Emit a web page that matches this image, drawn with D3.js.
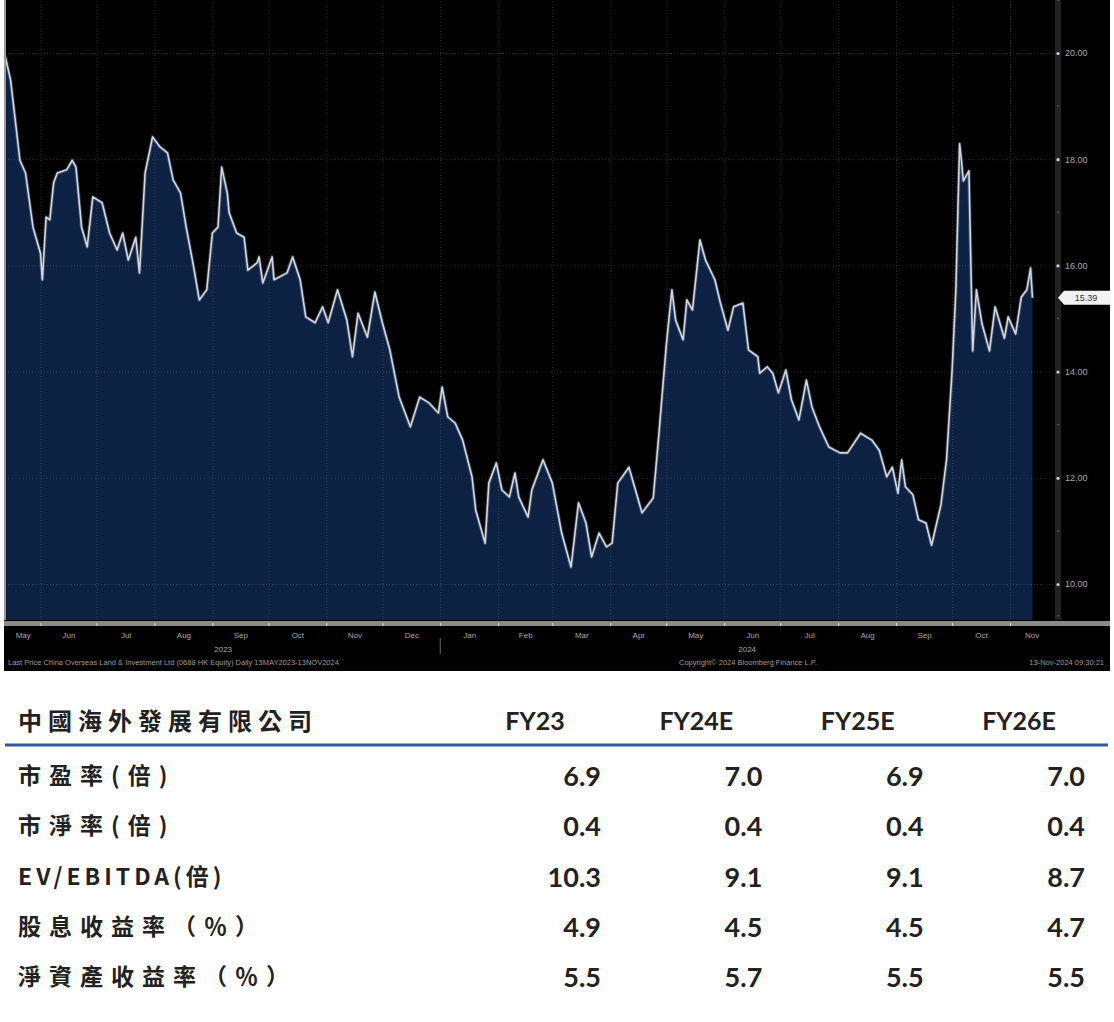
<html>

<head>
    <title>0688 HK</title>
    <script src='https://d3js.org/d3.v7.min.js'></script>
    <style>
        body { margin: 0; background: #fff; }
        .axis text { font-family: 'Liberation Sans', sans-serif; }
    </style>
</head>

<body>
    <svg id="chart"></svg>
    <script>
        // price series
        var dates = ["2023-05-13", "2023-05-16", "2023-05-21", "2023-05-24", "2023-05-28", "2023-06-01", "2023-06-02", "2023-06-04",
            "2023-06-06", "2023-06-08", "2023-06-10", "2023-06-15", "2023-06-18", "2023-06-20", "2023-06-23", "2023-06-26",
            "2023-06-29", "2023-07-04", "2023-07-08", "2023-07-12", "2023-07-15", "2023-07-18", "2023-07-22", "2023-07-24",
            "2023-07-27", "2023-07-31", "2023-08-04", "2023-08-08", "2023-08-11", "2023-08-15", "2023-08-18", "2023-08-22",
            "2023-08-25", "2023-08-29", "2023-09-01", "2023-09-04", "2023-09-06", "2023-09-09", "2023-09-10", "2023-09-14",
            "2023-09-18", "2023-09-20", "2023-09-25", "2023-09-26", "2023-09-28", "2023-10-03", "2023-10-04", "2023-10-11",
            "2023-10-14", "2023-10-18", "2023-10-21", "2023-10-26", "2023-10-30", "2023-11-02", "2023-11-07", "2023-11-12",
            "2023-11-15", "2023-11-18", "2023-11-23", "2023-11-27", "2023-12-01", "2023-12-05", "2023-12-10", "2023-12-16",
            "2023-12-21", "2023-12-26", "2023-12-31", "2024-01-02", "2024-01-05", "2024-01-09", "2024-01-13", "2024-01-18",
            "2024-01-20", "2024-01-25", "2024-01-27", "2024-01-31", "2024-02-03", "2024-02-07", "2024-02-10", "2024-02-12",
            "2024-02-17", "2024-02-19", "2024-02-25", "2024-03-01", "2024-03-06", "2024-03-11", "2024-03-15", "2024-03-19",
            "2024-03-22", "2024-03-26", "2024-03-30", "2024-04-02", "2024-04-05", "2024-04-11", "2024-04-15", "2024-04-18",
            "2024-04-24", "2024-04-27", "2024-05-01", "2024-05-04", "2024-05-06", "2024-05-10", "2024-05-12", "2024-05-15",
            "2024-05-19", "2024-05-22", "2024-05-27", "2024-05-30", "2024-06-03", "2024-06-06", "2024-06-11", "2024-06-14",
            "2024-06-19", "2024-06-20", "2024-06-24", "2024-06-27", "2024-06-30", "2024-07-04", "2024-07-07", "2024-07-11",
            "2024-07-15", "2024-07-18", "2024-07-22", "2024-07-27", "2024-08-02", "2024-08-06", "2024-08-13", "2024-08-19",
            "2024-08-23", "2024-08-27", "2024-08-30", "2024-09-02", "2024-09-04", "2024-09-06", "2024-09-10", "2024-09-13",
            "2024-09-17", "2024-09-20", "2024-09-25", "2024-09-28", "2024-10-01", "2024-10-03", "2024-10-05", "2024-10-06",
            "2024-10-07", "2024-10-10", "2024-10-12", "2024-10-14", "2024-10-17", "2024-10-21", "2024-10-24", "2024-10-29",
            "2024-10-31", "2024-11-04", "2024-11-07", "2024-11-10", "2024-11-12", "2024-11-13"];
        var prices = [19.96, 19.49, 17.98, 17.74, 16.72, 16.23, 15.73, 16.91,
            16.86, 17.55, 17.74, 17.80, 17.98, 17.85, 16.72, 16.35,
            17.29, 17.18, 16.61, 16.29, 16.61, 16.10, 16.53, 15.86,
            17.74, 18.42, 18.23, 18.12, 17.61, 17.36, 16.72, 15.97,
            15.35, 15.54, 16.61, 16.72, 17.85, 17.36, 16.99, 16.61,
            16.53, 15.91, 16.05, 16.16, 15.67, 16.16, 15.73, 15.86,
            16.16, 15.73, 15.03, 14.92, 15.22, 14.92, 15.54, 14.97,
            14.28, 15.10, 14.65, 15.50, 14.92, 14.41, 13.52, 12.96,
            13.52, 13.41, 13.22, 13.71, 13.15, 13.03, 12.71, 12.02,
            11.39, 10.77, 11.90, 12.28, 11.77, 11.64, 12.09, 11.64,
            11.26, 11.77, 12.34, 11.90, 10.96, 10.32, 11.53, 11.15,
            10.51, 10.96, 10.70, 10.77, 11.90, 12.20, 11.71, 11.34,
            11.62, 12.81, 14.50, 15.54, 14.97, 14.60, 15.35, 15.16,
            16.48, 16.10, 15.73, 15.29, 14.78, 15.22, 15.29, 14.41,
            14.28, 13.97, 14.09, 13.97, 13.60, 14.03, 13.47, 13.09,
            13.84, 13.33, 12.96, 12.58, 12.47, 12.47, 12.84, 12.71,
            12.52, 12.02, 12.20, 11.71, 12.34, 11.83, 11.68, 11.21,
            11.15, 10.73, 11.49, 12.34, 14.03, 15.54, 18.29, 17.97,
            17.59, 17.78, 14.39, 15.54, 14.90, 14.39, 15.22, 14.63,
            15.03, 14.71, 15.40, 15.54, 15.95, 15.39];
        var priceTicks = [10, 12, 14, 16, 18, 20];
        var lastPrice = 15.39;
        var footLeft = "Last Price  China Overseas Land & Investment Ltd (0688 HK Equity)  Daily 13MAY2023-13NOV2024";
        var footMid = "Copyright\u00a9 2024 Bloomberg Finance L.P.";
        var footRight = "13-Nov-2024 09:30:21";

        // valuation table
        var company = "中國海外發展有限公司";
        var years = ["FY23", "FY24E", "FY25E", "FY26E"];
        var metrics = ["市盈率(倍)", "市淨率(倍)", "EV/EBITDA(倍)", "股息收益率（％）", "淨資產收益率（％）"];
        var fy23 = [6.9, 0.4, 10.3, 4.9, 5.5];
        var fy24e = [7.0, 0.4, 9.1, 4.5, 5.7];
        var fy25e = [6.9, 0.4, 9.1, 4.5, 5.5];
        var fy26e = [7.0, 0.4, 8.7, 4.7, 5.5];

        var W = 1114, H = 1022;
        var left = 5, right = 1053, bottom = 620;
        var parse = d3.timeParse("%Y-%m-%d");
        var data = dates.map(function (d, i) { return { date: parse(d), price: prices[i] }; });
        var start = parse("2023-05-13"), end = parse("2024-11-24");

        var x = d3.scaleTime().domain([start, end]).range([left, right]);
        var y = d3.scaleLinear().domain([10, 20]).range([584, 53]);

        var svg = d3.select("#chart").attr("width", W).attr("height", H);

        // black panel
        svg.append("rect").attr("x", 4).attr("y", 0).attr("width", 1106).attr("height", 671).attr("fill", "#000");

        // area
        svg.append("path").datum(data)
            .attr("fill", "#0d2142")
            .attr("d", d3.area().x(function (d) { return x(d.date); }).y0(bottom).y1(function (d) { return y(d.price); }));

        // grid
        svg.append("g").attr("transform", "translate(" + right + ",0)")
            .call(d3.axisRight(y).tickValues(priceTicks).tickSize(-(right - left)).tickFormat(""))
            .call(function (g) { g.select(".domain").remove(); })
            .selectAll("line").attr("stroke", "#fff").attr("stroke-dasharray", "1,2").attr("stroke-opacity", 0.16);
        svg.append("g").attr("transform", "translate(0," + bottom + ")")
            .call(d3.axisBottom(x).ticks(d3.timeMonth.every(1)).tickSize(-bottom).tickFormat(""))
            .call(function (g) { g.select(".domain").remove(); })
            .selectAll("line").attr("stroke", "#fff").attr("stroke-dasharray", "1,2").attr("stroke-opacity", 0.16);

        // line with a soft glow
        var line = d3.line().x(function (d) { return x(d.date); }).y(function (d) { return y(d.price); });
        svg.append("path").datum(data)
            .attr("fill", "none").attr("stroke", "#8f9bb0").attr("stroke-opacity", 0.35)
            .attr("stroke-width", 3.5).attr("stroke-linejoin", "round").attr("d", line);
        svg.append("path").datum(data)
            .attr("fill", "none").attr("stroke", "#d2d8e2")
            .attr("stroke-width", 1.6).attr("stroke-linejoin", "round").attr("d", line);

        // left border line
        svg.append("line").attr("x1", 5).attr("x2", 5).attr("y1", 0).attr("y2", bottom).attr("stroke", "#9a9a9a").attr("stroke-width", 2);

        // right axis strip
        svg.append("rect").attr("x", 1055).attr("y", 0).attr("width", 6).attr("height", bottom).attr("fill", "#222");
        var yAxis = svg.append("g").attr("class", "axis").attr("transform", "translate(1058,0)")
            .call(d3.axisRight(y).tickValues(priceTicks).tickSize(0).tickPadding(7).tickFormat(d3.format(".2f")));
        yAxis.select(".domain").remove();
        yAxis.selectAll("text").attr("fill", "#a8a8a8").attr("font-size", 9);
        yAxis.selectAll(".tick").append("circle").attr("r", 1.6).attr("fill", "#cfcfcf");
        svg.append("g").attr("transform", "translate(1058,0)")
            .selectAll("circle").data(priceTicks.slice(0, -1).map(function (v) { return v + 1; }).concat([9.4, 21]))
            .join("circle").attr("cy", function (d) { return y(d); }).attr("r", 1).attr("fill", "#555");

        // last price tag
        var tag = svg.append("g").attr("transform", "translate(1058," + y(lastPrice) + ")");
        tag.append("path").attr("d", "M0,0 L6,-7 H52 V7 H6 Z").attr("fill", "#f2f2f2");
        tag.append("text").attr("x", 28).attr("y", 3.5).attr("text-anchor", "middle")
            .attr("font-family", "Liberation Sans").attr("font-size", 9).attr("fill", "#333").text(d3.format(".2f")(lastPrice));

        // bottom axis
        svg.append("rect").attr("x", 4).attr("y", bottom + 1).attr("width", 1106).attr("height", 5).attr("fill", "#8a8a8a");
        svg.append("g").attr("transform", "translate(0," + (bottom + 3) + ")")
            .call(d3.axisBottom(x).ticks(d3.timeMonth.every(1)).tickSize(3).tickFormat(""))
            .call(function (g) { g.select(".domain").remove(); })
            .selectAll("line").attr("stroke", "#e0e0e0");

        var months = d3.timeMonth.range(d3.timeMonth.floor(start), end).map(function (m) {
            var a = m < start ? start : m;
            var b = d3.timeMonth.offset(m, 1) > end ? end : d3.timeMonth.offset(m, 1);
            return new Date((+a + +b) / 2);
        });
        var xAxis = svg.append("g").attr("class", "axis").attr("transform", "translate(0," + (bottom + 6) + ")")
            .call(d3.axisBottom(x).tickValues(months).tickSize(0).tickPadding(6).tickFormat(d3.timeFormat("%b")));
        xAxis.select(".domain").remove();
        xAxis.selectAll("text").attr("fill", "#a8a8a8").attr("font-size", 8);

        var yearMids = [[start, parse("2024-01-01")], [parse("2024-01-01"), end]].map(function (p) {
            return new Date((+p[0] + +p[1]) / 2);
        });
        var yearAxis = svg.append("g").attr("class", "axis").attr("transform", "translate(0," + (bottom + 20) + ")")
            .call(d3.axisBottom(x).tickValues(yearMids).tickSize(0).tickPadding(6).tickFormat(d3.timeFormat("%Y")));
        yearAxis.select(".domain").remove();
        yearAxis.selectAll("text").attr("fill", "#a8a8a8").attr("font-size", 8);
        svg.append("line").attr("x1", x(parse("2024-01-01"))).attr("x2", x(parse("2024-01-01")))
            .attr("y1", bottom + 18).attr("y2", bottom + 34).attr("stroke", "#666");

        var foot = svg.append("g").attr("font-family", "Liberation Sans").attr("font-size", 7.5).attr("fill", "#9a9a9a");
        foot.append("text").attr("x", 8).attr("y", 665).text(footLeft);
        foot.append("text").attr("x", 748).attr("y", 665).attr("text-anchor", "middle").text(footMid);
        foot.append("text").attr("x", 1104).attr("y", 665).attr("text-anchor", "end").text(footRight);

        // table
        var colX = d3.scalePoint().domain(years).range([535, 1019]);
        var rowY = d3.scalePoint().domain(metrics).range([776, 977]);
        var cols = [fy23, fy24e, fy25e, fy26e];
        var fmt = d3.format(".1f");
        var tbl = svg.append("g");

        tbl.append("text").attr("x", 18).attr("y", 730)
            .attr("font-family", "'Noto Sans CJK TC'").attr("font-weight", 700).attr("font-size", 24)
            .attr("letter-spacing", 6).attr("fill", "#222").text(company);
        tbl.selectAll(".hdr").data(years).join("text")
            .attr("x", function (d) { return colX(d); }).attr("y", 730)
            .attr("text-anchor", "middle").attr("font-family", "Lato").attr("font-weight", 700)
            .attr("font-size", 25).attr("fill", "#222").text(function (d) { return d; });
        tbl.append("line").attr("x1", 5).attr("x2", 1108).attr("y1", 745).attr("y2", 745)
            .attr("stroke", "#2f5b9e").attr("stroke-width", 3);

        tbl.selectAll(".lbl").data(metrics).join("text")
            .attr("x", 18).attr("y", function (d) { return rowY(d) + 8; })
            .attr("font-family", "'Noto Sans CJK TC'").attr("font-weight", 700).attr("font-size", 23)
            .attr("letter-spacing", function (d) { return /[A-Z]/.test(d) ? 4 : 8; })
            .attr("fill", "#222").text(function (d) { return d; });

        years.forEach(function (yr, j) {
            tbl.selectAll(".v" + j).data(cols[j]).join("text")
                .attr("x", colX(yr) + 66).attr("y", function (d, i) { return rowY(metrics[i]) + 10; })
                .attr("text-anchor", "end").attr("font-family", "Lato").attr("font-weight", 700)
                .attr("font-size", 27).attr("fill", "#222").text(function (d) { return fmt(d); });
        });
    </script>
</body>

</html>
